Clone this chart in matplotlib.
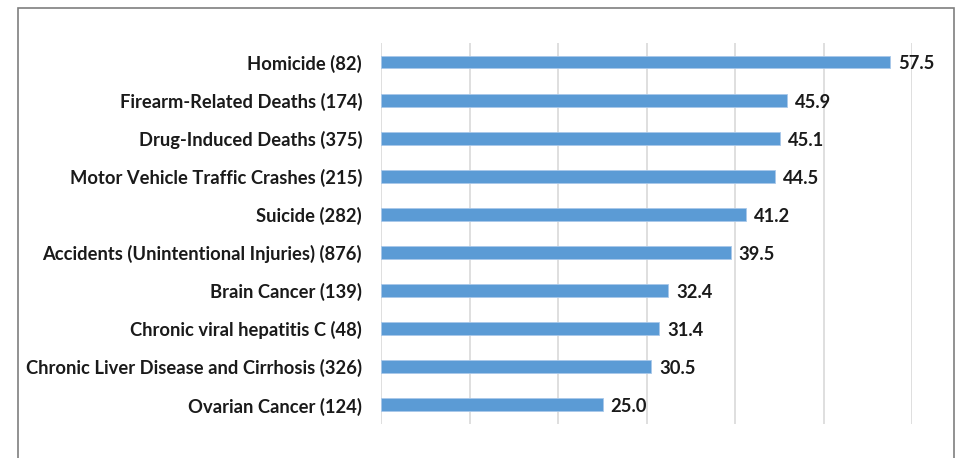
import matplotlib.pyplot as plt
import matplotlib.patches as mpatches

plt.rcParams['font.family'] = ['Lato', 'DejaVu Sans']

# data
causes = ['Homicide (82)', 'Firearm-Related Deaths (174)', 'Drug-Induced Deaths (375)',
          'Motor Vehicle Traffic Crashes (215)', 'Suicide (282)',
          'Accidents (Unintentional Injuries) (876)', 'Brain Cancer (139)',
          'Chronic viral hepatitis C (48)', 'Chronic Liver Disease and Cirrhosis (326)',
          'Ovarian Cancer (124)']
values = [57.5, 45.9, 45.1, 44.5, 41.2, 39.5, 32.4, 31.4, 30.5, 25.0]

fig = plt.figure(figsize=(9.59, 4.58), dpi=100)
ax = fig.add_axes([0.3978, 0.0742, 0.5532, 0.832])

ypos = list(range(len(causes)))
ax.barh(ypos, values, height=0.34, color='#5B9BD5', edgecolor='#A9C8EA', linewidth=0.6, zorder=3)
for y, v in zip(ypos, values):
    ax.text(v + 0.9, y + 0.05, f'{v:.1f}', va='center', ha='left', fontsize=13.2,
            fontweight='bold', color='#1a1a1a')

ax.set_xlim(0, 60)
ax.set_ylim(len(causes) - 0.5, -0.5)
ax.set_xticks(range(0, 61, 10))
ax.set_xticklabels([])
ax.set_yticks(ypos)
ax.set_yticklabels(causes, fontsize=13.2, fontweight='bold', color='#1a1a1a')
ax.tick_params(length=0, pad=14)
ax.grid(axis='x', color='#D9D9D9', linewidth=1.2, zorder=0)
for s in ax.spines.values():
    s.set_visible(False)

# outer frame of the chart area
frame = mpatches.Rectangle((18 / 959, -0.05), (954 - 18) / 959, 1.05 - 8 / 458,
                           transform=fig.transFigure, fill=False,
                           edgecolor='#7f7f7f', linewidth=1.2)
fig.patches.append(frame)

fig.savefig('out.png', dpi=100)
